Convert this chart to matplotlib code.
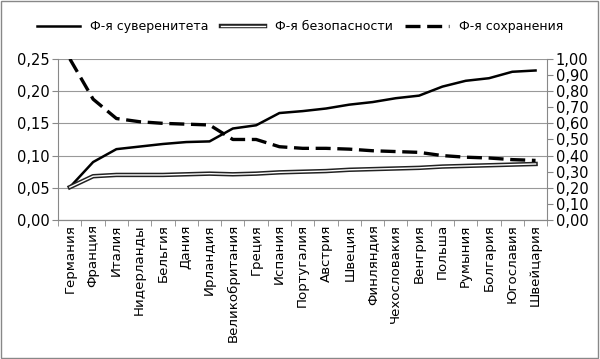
import numpy as np
import matplotlib
matplotlib.use("Agg")
import matplotlib.pyplot as plt
import matplotlib.patheffects as pe
from matplotlib.ticker import FuncFormatter, MultipleLocator, FixedLocator

countries = ["Германия", "Франция", "Италия", "Нидерланды", "Бельгия", "Дания",
             "Ирландия", "Великобритания", "Греция", "Испания", "Португалия",
             "Австрия", "Швеция", "Финляндия", "Чехословакия", "Венгрия",
             "Польша", "Румыния", "Болгария", "Югославия", "Швейцария"]
sovereignty = [0.051, 0.090, 0.110, 0.114, 0.118, 0.121, 0.122, 0.142, 0.147, 0.166,
               0.169, 0.173, 0.179, 0.183, 0.189, 0.193, 0.207, 0.216, 0.220, 0.230, 0.232]
security = [0.051, 0.068, 0.070, 0.070, 0.070, 0.071, 0.072, 0.071, 0.072, 0.074,
            0.075, 0.076, 0.078, 0.079, 0.080, 0.081, 0.083, 0.084, 0.085, 0.086, 0.087]
preservation = [1.00, 0.75, 0.63, 0.61, 0.60, 0.595, 0.59, 0.50, 0.50, 0.455,
                0.445, 0.445, 0.44, 0.43, 0.425, 0.42, 0.40, 0.39, 0.385, 0.375, 0.37]
labels = ["Ф-я суверенитета", "Ф-я безопасности", "Ф-я сохранения"]

plt.rcParams["font.family"] = ["DejaVu Sans"]
plt.rcParams["font.size"] = 9
grey = "#888888"

fig = plt.figure(figsize=(6, 3.59), dpi=100)
ax = fig.add_axes([0.097, 0.387, 0.815, 0.449])
ax2 = ax.twinx()

x = np.arange(len(countries))
l1, = ax.plot(x, sovereignty, color="black", lw=1.8, label=labels[0])
l2, = ax.plot(x, security, color="white", lw=1.0, label=labels[1],
              path_effects=[pe.Stroke(linewidth=3.2, foreground="#222222"), pe.Normal()])
l3, = ax2.plot(x, preservation, color="black", lw=2.4, dashes=(4.5, 2), label=labels[2])

fmt = FuncFormatter(lambda v, p: f"{v:.2f}".replace(".", ","))
ax.set_ylim(0, 0.25)
ax.yaxis.set_major_locator(MultipleLocator(0.05))
ax.yaxis.set_major_formatter(fmt)
ax2.set_ylim(0, 1.0)
ax2.yaxis.set_major_locator(MultipleLocator(0.1))
ax2.yaxis.set_major_formatter(fmt)

ax.set_xlim(-0.5, len(countries) - 0.5)
ax.set_xticks(x)
ax.set_xticklabels(countries, rotation=90, fontsize=9.6)
ax.xaxis.set_minor_locator(FixedLocator(np.arange(-0.5, len(countries), 1)))
ax.tick_params(axis="x", which="major", length=0, pad=3)
ax.tick_params(axis="x", which="minor", length=4, color=grey)
ax.tick_params(axis="y", length=4, color=grey, pad=2, labelsize=10.5)
ax2.tick_params(axis="y", length=4, color=grey, pad=2, labelsize=10.5)

ax.grid(axis="y", color="#999999", lw=0.8)
ax.set_axisbelow(True)
for a in (ax, ax2):
    a.spines["top"].set_visible(False)
    for s in ("left", "right", "bottom"):
        a.spines[s].set_color(grey)
ax2.spines["left"].set_visible(False)
ax.spines["right"].set_visible(False)

fig.legend(handles=[l1, l2, l3], loc="upper center", bbox_to_anchor=(0.5, 0.975),
           ncol=3, frameon=False, handlelength=3.5, columnspacing=1.0, fontsize=9)

fig.patches.append(plt.Rectangle((0.002, 0.003), 0.995, 0.993, transform=fig.transFigure,
                                 fill=False, edgecolor="#888888", lw=1))

plt.savefig("out.png", dpi=100)
